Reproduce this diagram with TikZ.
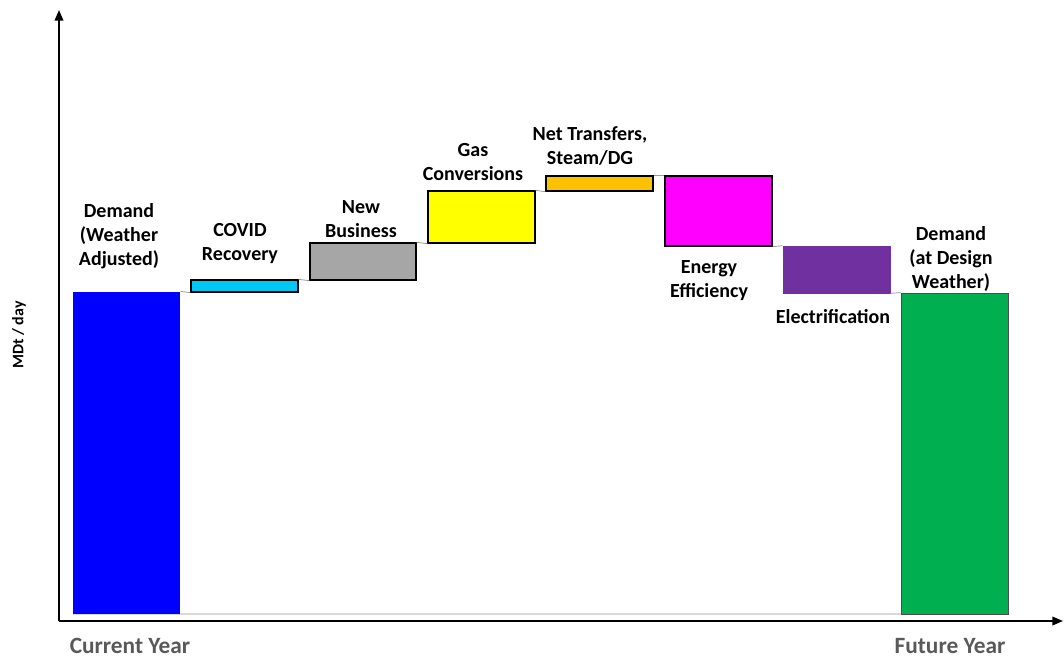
\documentclass[tikz,border=0pt]{standalone}
\usepackage{fontspec}
\setmainfont{Carlito}
\usetikzlibrary{fit}
\usetikzlibrary{arrows.meta}
\definecolor{cBlue}{HTML}{0000FF}
\definecolor{cCyan}{HTML}{00C8F5}
\definecolor{cGray}{HTML}{A6A6A6}
\definecolor{cYellow}{HTML}{FFFF00}
\definecolor{cOrange}{HTML}{FFC000}
\definecolor{cMagenta}{HTML}{FF00FF}
\definecolor{cPurple}{HTML}{7030A0}
\definecolor{cGreen}{HTML}{00B050}
\definecolor{cAxisText}{HTML}{595959}
\begin{document}
\begin{tikzpicture}[>={Triangle[length=8pt,width=6.5pt]},x=0.75pt,y=-0.75pt,
    bar/.style={draw=black,line width=1pt,inner sep=0pt},
    lbl/.style={font=\bfseries\fontsize{15}{18}\selectfont,align=center,inner sep=0pt},
    yearlbl/.style={font=\bfseries\fontsize{17.5}{20}\selectfont,text=cAxisText,inner sep=0pt},
    link/.style={draw=gray!80,line width=0.6pt}]
\useasboundingbox (0,0) rectangle (1064,658);
% axes
\coordinate (orig) at (59,621);
\coordinate (ytop) at (59,10);
\coordinate (xend) at (1063,621);
\draw[->,line width=1.2pt] (orig) -- (ytop);
\draw[->,line width=1.2pt] (orig) -- (xend);
\coordinate (base0) at (73,614);
\coordinate (base1) at (1008,614);
\draw[gray!30,line width=0.8pt] (base0) -- (base1);
% bars
\node[bar,draw=none,fill=cBlue,fit={(73,292) (180,614)}] (now) {};
\node[bar,fill=cCyan,fit={(191,280) (298,292)}] (covid) {};
\node[bar,fill=cGray,fit={(310,243) (416,280)}] (newbiz) {};
\node[bar,fill=cYellow,fit={(428,191) (535,243)}] (gas) {};
\node[bar,fill=cOrange,fit={(546,176) (653,191)}] (net) {};
\node[bar,fill=cMagenta,fit={(665,176) (772,246)}] (eff) {};
\node[bar,draw=cPurple,line width=0.5pt,fill=cPurple,fit={(783,246) (890,293)}] (elec) {};
\node[bar,draw=black!70,line width=0.6pt,fill=cGreen,fit={(901,293) (1008,614)}] (future) {};
% links between steps
\draw[link] (now.north east) -- (covid.south west);
\draw[link] (covid.north east) -- (newbiz.south west);
\draw[link] (newbiz.north east) -- (gas.south west);
\draw[link] (gas.north east) -- (net.south west);
\draw[link] (net.north east) -- (eff.north west);
\draw[link] (eff.south east) -- (elec.north west);
\draw[link] (elec.south east) -- (future.north west);
% labels
\node[lbl] (lnow) at (119,236) {Demand\\(Weather\\Adjusted)};
\node[lbl] (lcovid) at (240,244) {COVID\\Recovery};
\node[lbl] (lnewbiz) at (361,219) {New\\Business};
\node[lbl] (lgas) at (473,162) {Gas\\Conversions};
\node[lbl] (lnet) at (590,146) {Net Transfers,\\Steam/DG};
\node[lbl] (leff) at (709,281) {Energy\\Efficiency};
\node[lbl] (lelec) at (833,317) {Electrification};
\node[lbl] (lfuture) at (951,259) {Demand\\(at Design\\Weather)};
\node[lbl,font=\bfseries\fontsize{12}{14}\selectfont,rotate=90] (yl) at (19,335) {MDt / day};
\node[yearlbl] (cur) at (130,646) {Current Year};
\node[yearlbl] (fut) at (950,646) {Future Year};
\end{tikzpicture}
\end{document}
